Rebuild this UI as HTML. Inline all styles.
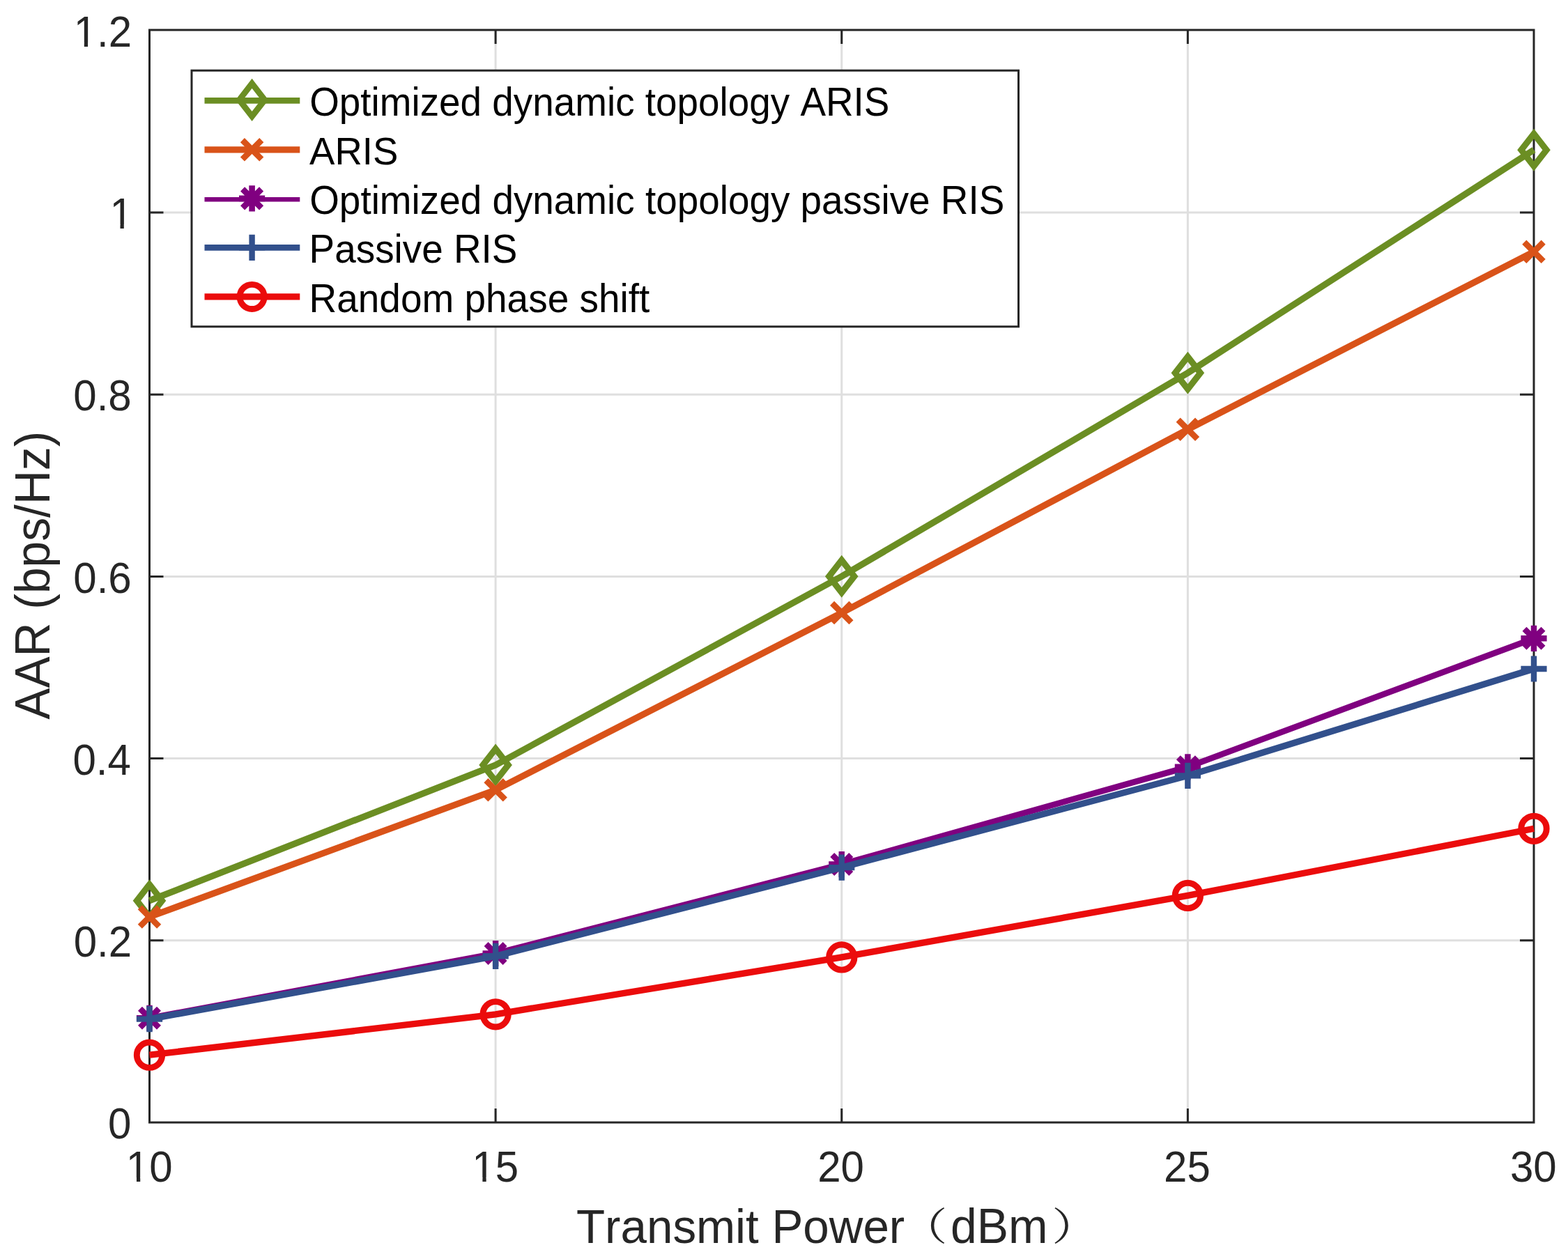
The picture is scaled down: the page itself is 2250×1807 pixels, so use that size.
<!DOCTYPE html><html><head><meta charset="utf-8"><title>AAR vs Transmit Power</title><style>html,body{margin:0;padding:0;background:#fff;overflow:hidden}svg{display:block}text{font-family:"Liberation Sans",Arial,Helvetica,sans-serif;font-kerning:none;white-space:pre}</style></head><body>
<svg xmlns="http://www.w3.org/2000/svg" width="2250" height="1807" viewBox="0 0 2250 1807">
<defs><clipPath id="cy5"><rect x="-50" y="-500" width="133.37" height="494.32"/><rect x="-50" y="-6.18" width="53.52" height="35.68"/><rect x="15.09" y="-6.18" width="5.3" height="35.68"/><rect x="31.49" y="-6.18" width="51.88" height="35.68"/></clipPath><clipPath id="cy6"><rect x="-50" y="-500" width="183.41" height="494.32"/><rect x="-50" y="-6.18" width="53.52" height="35.68"/><rect x="15.09" y="-6.18" width="5.3" height="35.68"/><rect x="31.49" y="-6.18" width="101.91" height="35.68"/></clipPath><clipPath id="cx0"><rect x="-50" y="-500" width="166.74" height="494.32"/><rect x="-50" y="-6.18" width="53.52" height="35.68"/><rect x="15.09" y="-6.18" width="5.3" height="35.68"/><rect x="31.49" y="-6.18" width="85.24" height="35.68"/></clipPath><clipPath id="cx1"><rect x="-50" y="-500" width="166.74" height="494.32"/><rect x="-50" y="-6.18" width="53.52" height="35.68"/><rect x="15.09" y="-6.18" width="5.3" height="35.68"/><rect x="31.49" y="-6.18" width="85.24" height="35.68"/></clipPath></defs>
<rect width="2250" height="1807" fill="#fff"/>
<path d="M711.12 43V1611M1207.75 43V1611M1704.38 43V1611M214.5 1349.8H2201M214.5 1088.6H2201M214.5 827.4H2201M214.5 566.2H2201M214.5 305H2201" stroke="#dfdfdf" stroke-width="3" fill="none"/>
<path d="M711.12 1611V1591M711.12 43V63M1207.75 1611V1591M1207.75 43V63M1704.38 1611V1591M1704.38 43V63M214.5 1349.8H234.5M2201 1349.8H2181M214.5 1088.6H234.5M2201 1088.6H2181M214.5 827.4H234.5M2201 827.4H2181M214.5 566.2H234.5M2201 566.2H2181M214.5 305H234.5M2201 305H2181" stroke="#262626" stroke-width="3" fill="none"/>
<rect x="214.5" y="43" width="1986.5" height="1568" fill="none" stroke="#262626" stroke-width="3"/>
<path d="M214.5 1292.7 L711.12 1098 L1207.75 827.3 L1704.38 535.2 L2201 215.2" fill="none" stroke="#6b8e23" stroke-width="9.3" stroke-linejoin="miter" stroke-miterlimit="4"/>
<path d="M214.5 1269.5 L232.6 1292.7 L214.5 1315.9 L196.4 1292.7 Z" fill="none" stroke="#6b8e23" stroke-width="9" stroke-miterlimit="10"/>
<path d="M711.12 1074.8 L729.23 1098 L711.12 1121.2 L693.02 1098 Z" fill="none" stroke="#6b8e23" stroke-width="9" stroke-miterlimit="10"/>
<path d="M1207.75 804.1 L1225.85 827.3 L1207.75 850.5 L1189.65 827.3 Z" fill="none" stroke="#6b8e23" stroke-width="9" stroke-miterlimit="10"/>
<path d="M1704.38 512 L1722.47 535.2 L1704.38 558.4 L1686.28 535.2 Z" fill="none" stroke="#6b8e23" stroke-width="9" stroke-miterlimit="10"/>
<path d="M2201 192 L2219.1 215.2 L2201 238.4 L2182.9 215.2 Z" fill="none" stroke="#6b8e23" stroke-width="9" stroke-miterlimit="10"/>
<path d="M214.5 1316 L711.12 1133.8 L1207.75 879.6 L1704.38 616.3 L2201 361.3" fill="none" stroke="#d95319" stroke-width="9.3" stroke-linejoin="miter" stroke-miterlimit="4"/>
<path d="M200.8 1302.3L228.2 1329.7M200.8 1329.7L228.2 1302.3" stroke="#d95319" stroke-width="8.6" fill="none"/>
<path d="M697.42 1120.1L724.83 1147.5M697.42 1147.5L724.83 1120.1" stroke="#d95319" stroke-width="8.6" fill="none"/>
<path d="M1194.05 865.9L1221.45 893.3M1194.05 893.3L1221.45 865.9" stroke="#d95319" stroke-width="8.6" fill="none"/>
<path d="M1690.67 602.6L1718.08 630M1690.67 630L1718.08 602.6" stroke="#d95319" stroke-width="8.6" fill="none"/>
<path d="M2187.3 347.6L2214.7 375M2187.3 375L2214.7 347.6" stroke="#d95319" stroke-width="8.6" fill="none"/>
<path d="M214.5 1461.3 L711.12 1368.5 L1207.75 1240.5 L1704.38 1100.8 L2201 916.3" fill="none" stroke="#800080" stroke-width="8.7" stroke-linejoin="miter" stroke-miterlimit="4"/>
<path d="M195.9 1461.3H233.1M214.5 1442.7V1479.9M201 1447.8L228 1474.8M201 1474.8L228 1447.8" stroke="#800080" stroke-width="8.4" fill="none"/>
<path d="M692.52 1368.5H729.73M711.12 1349.9V1387.1M697.62 1355L724.62 1382M697.62 1382L724.62 1355" stroke="#800080" stroke-width="8.4" fill="none"/>
<path d="M1189.15 1240.5H1226.35M1207.75 1221.9V1259.1M1194.25 1227L1221.25 1254M1194.25 1254L1221.25 1227" stroke="#800080" stroke-width="8.4" fill="none"/>
<path d="M1685.78 1100.8H1722.97M1704.38 1082.2V1119.4M1690.88 1087.3L1717.88 1114.3M1690.88 1114.3L1717.88 1087.3" stroke="#800080" stroke-width="8.4" fill="none"/>
<path d="M2182.4 916.3H2219.6M2201 897.7V934.9M2187.5 902.8L2214.5 929.8M2187.5 929.8L2214.5 902.8" stroke="#800080" stroke-width="8.4" fill="none"/>
<path d="M214.5 1462.6 L711.12 1372.3 L1207.75 1245.1 L1704.38 1113.4 L2201 960" fill="none" stroke="#32508c" stroke-width="9.3" stroke-linejoin="miter" stroke-miterlimit="4"/>
<path d="M195.9 1462.6H233.1M214.5 1444V1481.2" stroke="#32508c" stroke-width="8.4" fill="none"/>
<path d="M692.52 1372.3H729.73M711.12 1353.7V1390.9" stroke="#32508c" stroke-width="8.4" fill="none"/>
<path d="M1189.15 1245.1H1226.35M1207.75 1226.5V1263.7" stroke="#32508c" stroke-width="8.4" fill="none"/>
<path d="M1685.78 1113.4H1722.97M1704.38 1094.8V1132" stroke="#32508c" stroke-width="8.4" fill="none"/>
<path d="M2182.4 960H2219.6M2201 941.4V978.6" stroke="#32508c" stroke-width="8.4" fill="none"/>
<path d="M214.5 1514.2 L711.12 1455.8 L1207.75 1373.9 L1704.38 1285.4 L2201 1189.3" fill="none" stroke="#eb0c0c" stroke-width="9.3" stroke-linejoin="miter" stroke-miterlimit="4"/>
<circle cx="214.5" cy="1514.2" r="18.2" fill="none" stroke="#eb0c0c" stroke-width="8.9"/>
<circle cx="711.12" cy="1455.8" r="18.2" fill="none" stroke="#eb0c0c" stroke-width="8.9"/>
<circle cx="1207.75" cy="1373.9" r="18.2" fill="none" stroke="#eb0c0c" stroke-width="8.9"/>
<circle cx="1704.38" cy="1285.4" r="18.2" fill="none" stroke="#eb0c0c" stroke-width="8.9"/>
<circle cx="2201" cy="1189.3" r="18.2" fill="none" stroke="#eb0c0c" stroke-width="8.9"/>
<text transform="translate(155.07 1634.2) scale(1 1.06)" font-size="60" fill="#262626">0</text>
<text transform="translate(105.71 1373) scale(1 1.06)" font-size="60" fill="#262626">0.2</text>
<text transform="translate(104.45 1111.8) scale(1 1.06)" font-size="60" fill="#262626">0.4</text>
<text transform="translate(105.33 850.6) scale(1 1.06)" font-size="60" fill="#262626">0.6</text>
<text transform="translate(105.3 589.4) scale(1 1.06)" font-size="60" fill="#262626">0.8</text>
<text transform="translate(157.41 328.2) scale(1 1.06)" font-size="60" fill="#262626" clip-path="url(#cy5)">1</text>
<text transform="translate(105.71 67) scale(1 1.06)" font-size="60" fill="#262626" clip-path="url(#cy6)">1.2</text>
<text transform="translate(180.87 1696) scale(1 1.06)" font-size="60" fill="#262626" clip-path="url(#cx0)">10</text>
<text transform="translate(677.3 1696) scale(1 1.06)" font-size="60" fill="#262626" clip-path="url(#cx1)">15</text>
<text transform="translate(1173.19 1696) scale(1 1.06)" font-size="60" fill="#262626">20</text>
<text transform="translate(1670.06 1696) scale(1 1.06)" font-size="60" fill="#262626">25</text>
<text transform="translate(2167.01 1696) scale(1 1.06)" font-size="60" fill="#262626">30</text>
<text transform="translate(826.99 1783.8) scale(1 1.03)" font-size="67.32" fill="#262626">Transmit Power</text>
<text transform="translate(1363.95 1783.8) scale(1 1.03)" font-size="67.86" fill="#262626">dBm</text>
<text transform="translate(1292 1780.4) scale(1 0.8227)" font-size="67.5" fill="#262626" style="font-family:'Noto Serif CJK SC','Noto Serif CJK JP',serif">（</text>
<text transform="translate(1509.2 1780.4) scale(1 0.8227)" font-size="67.5" fill="#262626" style="font-family:'Noto Serif CJK SC','Noto Serif CJK JP',serif">）</text>
<text transform="translate(71 1032.73) rotate(-90) scale(1 1.03)" font-size="67.74" fill="#262626">AAR (bps/Hz)</text>
<rect x="275" y="101.2" width="1186.5" height="367.6" fill="#fff" stroke="#262626" stroke-width="3"/>
<path d="M293.5 144.4H430.3" stroke="#6b8e23" stroke-width="8.9"/>
<path d="M361.6 119.8 L379.9 143.4 L361.6 167 L343.3 143.4 Z" fill="none" stroke="#6b8e23" stroke-width="8.6" stroke-miterlimit="10"/>
<text transform="translate(444.2 165.9) scale(1 1.06)" font-size="54.86" fill="#000">Optimized dynamic topology ARIS</text>
<path d="M293.5 214.8H430.3" stroke="#d95319" stroke-width="9.3"/>
<path d="M347.9 201.1L375.3 228.5M347.9 228.5L375.3 201.1" stroke="#d95319" stroke-width="8.6" fill="none"/>
<text transform="translate(444.09 235.8) scale(1 1.03)" font-size="54.55" fill="#000">ARIS</text>
<path d="M293.5 286.3H430.3" stroke="#800080" stroke-width="6.6"/>
<path d="M343 284.9H380.2M361.6 266.3V303.5M348.1 271.4L375.1 298.4M348.1 298.4L375.1 271.4" stroke="#800080" stroke-width="8.6" fill="none"/>
<text transform="translate(444.2 306.9) scale(1 1.06)" font-size="54.87" fill="#000">Optimized dynamic topology passive RIS</text>
<path d="M293.5 355.4H430.3" stroke="#32508c" stroke-width="8.8"/>
<path d="M343 355.4H380.2M361.6 336.8V374" stroke="#32508c" stroke-width="8.4" fill="none"/>
<text transform="translate(443.6 376.9) scale(1 1.03)" font-size="54.87" fill="#000">Passive RIS</text>
<path d="M293.5 425.9H430.3" stroke="#eb0c0c" stroke-width="9.3"/>
<circle cx="361.6" cy="425.9" r="17.6" fill="none" stroke="#eb0c0c" stroke-width="8.8"/>
<text transform="translate(443.59 447.9) scale(1 1.05)" font-size="54.94" fill="#000">Random phase shift</text>
</svg></body></html>
